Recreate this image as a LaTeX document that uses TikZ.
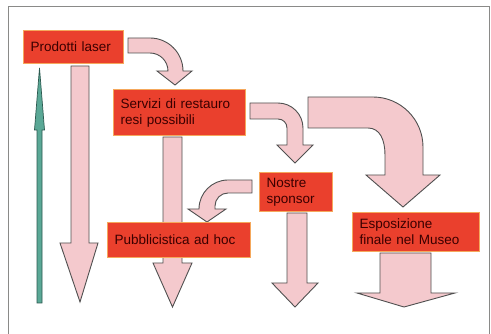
\documentclass[tikz,border=0pt]{standalone}
\usepackage{fontspec}
\setmainfont{Liberation Sans}
\definecolor{boxred}{HTML}{EA402D}
\definecolor{boxedge}{HTML}{F5A85C}
\definecolor{txtred}{HTML}{3A0000}
\definecolor{pinkfill}{HTML}{F4C9CD}
\definecolor{pinkline}{HTML}{505050}
\definecolor{tealfill}{HTML}{5AA896}
\definecolor{tealline}{HTML}{2C5A50}
\definecolor{framegray}{HTML}{8A8A88}
\tikzset{
  redbox/.style={fill=boxred, draw=boxedge, line width=1.2pt, text=txtred,
    font=\fontsize{13.5}{16}\selectfont\color{txtred}, align=left, anchor=north west,
    inner xsep=7pt, inner ysep=0pt},
  blockarrow/.style={fill=pinkfill, draw=pinkline, line width=0.9pt, line join=miter},
  greenarrow/.style={fill=tealfill, draw=tealline, line width=0.7pt},
}
\begin{document}
\begin{tikzpicture}[x=1pt,y=-1pt]
\useasboundingbox (0,0) rectangle (491,334);
\fill[white] (0,0) rectangle (491,334);
\draw[framegray, line width=1pt] (8,7) rectangle (489,345);

% green upward arrow
\draw[greenarrow] (37,303) -- (37,130) -- (34.5,130) -- (39.5,68) -- (44.5,130) -- (42,130) -- (42,303) -- cycle;

% straight down arrows
\draw[blockarrow] (71,66) -- (71,243) -- (60,243) -- (80,302) -- (98,243) -- (89,243) -- (89,66) -- cycle;
\draw[blockarrow] (163,137) -- (163,263) -- (153,263) -- (172.5,307) -- (192,263) -- (182,263) -- (182,137) -- cycle;
\draw[blockarrow] (287,213) -- (287,283) -- (272,283) -- (295,307) -- (318,283) -- (307,283) -- (307,213) -- cycle;
\draw[blockarrow] (380,253) -- (380,293) -- (357,293) -- (404,307) -- (455,293) -- (431,293) -- (431,253) -- cycle;

% curved arrows
\draw[blockarrow] (128,38) -- (150,38) .. controls (168.2,38) and (183,52.8) .. (183,71) -- (192,71) -- (175,85) -- (157,71) -- (168,71) .. controls (168,61.1) and (159.9,53) .. (150,53) -- (128,53) -- cycle;
\draw[blockarrow] (250,103) -- (278,103) .. controls (291.8,103) and (303,114.2) .. (303,128) -- (303,145) -- (313,145) -- (295,163) -- (277,145) -- (287,145) -- (287,128) .. controls (287,123) and (283,119) .. (278,119) -- (250,119) -- cycle;
\draw[blockarrow] (308,97) -- (373,97) .. controls (400.6,97) and (423,119.4) .. (423,147) -- (423,175) -- (440,175) -- (403,207) -- (366,175) -- (385,175) -- (385,155) .. controls (385,140) and (380,128) .. (368,128) -- (308,128) -- cycle;
\draw[blockarrow] (252,180) -- (228,180) .. controls (212,180) and (199,193) .. (199,209) -- (188,209) -- (207,222) -- (226,209) -- (215,209) -- (215,206) .. controls (215,198.8) and (220.8,193) .. (228,193) -- (252,193) -- cycle;

% boxes
\node[redbox, text width=86pt, minimum height=33pt] (laser) at (23,30) {Prodotti laser};
\node[redbox, text width=118pt, minimum height=46pt] (servizi) at (113,89) {Servizi di restauro\\resi possibili};
\node[redbox, text width=129pt, minimum height=35pt] (pubbl) at (107,222) {Pubblicistica ad hoc};
\node[redbox, text width=59pt, minimum height=39pt] (sponsor) at (259,172) {Nostre\\sponsor};
\node[redbox, text width=113pt, minimum height=39pt] (espo) at (352,212) {Esposizione\\finale nel Museo};
\end{tikzpicture}
\end{document}
